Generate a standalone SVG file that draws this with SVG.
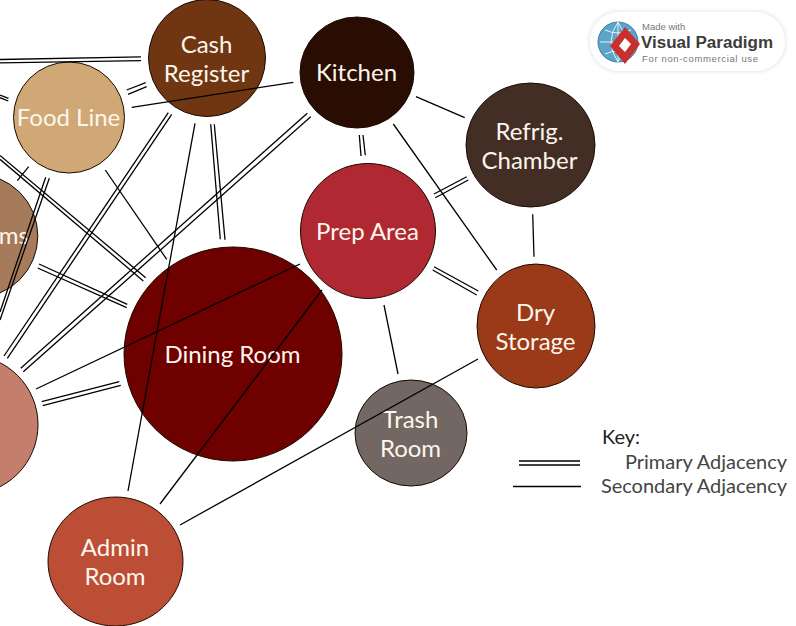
<svg xmlns="http://www.w3.org/2000/svg" width="796" height="626" viewBox="0 0 796 626">
<style>
.n{stroke:#1a0a00;stroke-width:1}
.t{font-family:Lato,"Open Sans","Liberation Sans",sans-serif;font-size:24px;fill:#fdf6ec;text-anchor:middle}
.k{font-family:Lato,"Open Sans","Liberation Sans",sans-serif;font-size:20px;fill:#444;text-anchor:end}
#connectors line{stroke:#000;stroke-width:1.3;fill:none}
</style>
<defs>
<filter id="soft" x="-10%" y="-20%" width="120%" height="140%"><feGaussianBlur stdDeviation="1.5"/></filter>
</defs>
<rect width="796" height="626" fill="#fff"/>
<g id="restrooms"><circle class="n" cx="-24" cy="236" r="61.800" fill="#A67B5B"/><text class="t" x="29" y="244" style="text-anchor:end">ms</text></g>
<g id="unnamed-left"><circle class="n" cx="-31.600" cy="424.700" r="69.600" fill="#C47F6C"/></g>
<g id="cash-register"><circle class="n" cx="207" cy="58" r="58.500" fill="#6F3611"/><text class="t" x="206.500" y="53">Cash</text><text class="t" x="206.500" y="82">Register</text></g>
<g id="food-line"><circle class="n" cx="69" cy="117.500" r="55.500" fill="#CFA876"/><text class="t" x="68.500" y="126">Food Line</text></g>
<g id="kitchen"><ellipse class="n" cx="357" cy="72.500" rx="57" ry="55.500" fill="#2A0D02"/><text class="t" x="356.500" y="81">Kitchen</text></g>
<g id="refrig-chamber"><ellipse class="n" cx="530.500" cy="145" rx="64.500" ry="62" fill="#432E25"/><text class="t" x="529.500" y="140">Refrig.</text><text class="t" x="529.500" y="169">Chamber</text></g>
<g id="prep-area"><circle class="n" cx="368" cy="231" r="67.500" fill="#B02832"/><text class="t" x="367.500" y="240">Prep Area</text></g>
<g id="dry-storage"><ellipse class="n" cx="536" cy="326" rx="59" ry="62" fill="#9B3A18"/><text class="t" x="535.500" y="321">Dry</text><text class="t" x="535.500" y="350">Storage</text></g>
<g id="dining-room"><ellipse class="n" cx="233" cy="354" rx="109" ry="107" fill="#6F0000"/><text class="t" x="232.500" y="363">Dining Room</text></g>
<g id="trash-room"><ellipse class="n" cx="411" cy="433" rx="56" ry="53" fill="#726763"/><text class="t" x="410.500" y="428">Trash</text><text class="t" x="410.500" y="457">Room</text></g>
<g id="admin-room"><ellipse class="n" cx="115.500" cy="561.500" rx="67.500" ry="64.500" fill="#BC4E36"/><text class="t" x="115" y="556">Admin</text><text class="t" x="115" y="585">Room</text></g>
<g id="connectors">
<line x1="0" y1="59.500" x2="141" y2="56.800"/><line x1="0" y1="62.800" x2="141" y2="60.600"/>
<line x1="126.700" y1="90" x2="145.700" y2="82.700"/><line x1="128" y1="94.300" x2="146.700" y2="86.700"/>
<line x1="131.700" y1="107.300" x2="293.300" y2="82.300"/>
<line x1="168.300" y1="112.700" x2="4" y2="356"/><line x1="171.700" y1="114.300" x2="7.300" y2="358.300"/>
<line x1="195" y1="123.300" x2="128" y2="491"/>
<line x1="210.700" y1="124.300" x2="220.300" y2="239.300"/><line x1="214.300" y1="124.300" x2="225" y2="239.700"/>
<line x1="307.300" y1="113.300" x2="20.700" y2="368.300"/><line x1="310.700" y1="116.700" x2="23.300" y2="371.700"/>
<line x1="105.300" y1="170" x2="166.700" y2="259.300"/>
<line x1="0" y1="155.500" x2="145.700" y2="277.700"/><line x1="0" y1="159.300" x2="143.300" y2="281"/>
<line x1="0" y1="95" x2="8.500" y2="98.300"/><line x1="0" y1="97.700" x2="8.300" y2="101"/>
<line x1="28.700" y1="166.700" x2="17.300" y2="180.700"/>
<line x1="45.700" y1="177.300" x2="0" y2="312"/><line x1="49.300" y1="178.300" x2="0" y2="320"/>
<line x1="39" y1="264" x2="127.300" y2="304.300"/><line x1="37.700" y1="268" x2="126.700" y2="307.700"/>
<line x1="36" y1="389" x2="300" y2="264"/>
<line x1="160" y1="504" x2="322" y2="290"/>
<line x1="41.700" y1="401.700" x2="119.300" y2="381.700"/><line x1="42.700" y1="405.700" x2="120.700" y2="385.300"/>
<line x1="359.300" y1="135" x2="361" y2="156"/><line x1="363" y1="135" x2="365.300" y2="155.300"/>
<line x1="416" y1="96.700" x2="464.700" y2="117.700"/>
<line x1="393.300" y1="124" x2="496.700" y2="270"/>
<line x1="466.700" y1="176.700" x2="434" y2="194"/><line x1="468.300" y1="180" x2="435.300" y2="197.700"/>
<line x1="434" y1="266.700" x2="478.300" y2="291"/><line x1="432.700" y1="270" x2="476.700" y2="295"/>
<line x1="532.700" y1="214.300" x2="534" y2="256.700"/>
<line x1="384" y1="305" x2="398" y2="374"/>
<line x1="478" y1="359" x2="180" y2="525"/>
<line x1="519" y1="461" x2="580" y2="461"/><line x1="519" y1="465" x2="580" y2="465"/>
<line x1="513" y1="486.500" x2="581" y2="486.500"/>
</g>
<g id="key">
<text class="k" x="602" y="443.500" style="fill:#222;text-anchor:start">Key:</text>
<text class="k" x="787" y="468.500">Primary Adjacency</text>
<text class="k" x="787" y="492.500">Secondary Adjacency</text>
</g>
<g id="badge">
<rect x="588" y="10" width="199" height="63" rx="31" fill="#eee" filter="url(#soft)"/>
<rect x="590" y="12" width="195" height="59" rx="29" fill="#fff"/>
<circle cx="618" cy="42" r="20" fill="#5aa5c8" stroke="#3c7fa6" stroke-width="1"/>
<path d="M600 42H636M618 22V62M605 30Q618 36 631 30M605 54Q618 48 631 54M618 22Q604 42 618 62M618 22Q632 42 618 62" fill="none" stroke="#e6f2f8" stroke-width="1"/>
<path d="M625 27L640 44L625 64L610 46Z" fill="#c8302f"/>
<path d="M625 38L631 44L625 52L619 46Z" fill="#fff"/>
<text x="642" y="30" font-family="Liberation Sans,sans-serif" font-size="9.500" fill="#777">Made with</text>
<text x="641" y="47.500" font-family="Liberation Sans,sans-serif" font-size="16" font-weight="700" fill="#3c3c3c" textLength="132" lengthAdjust="spacingAndGlyphs">Visual Paradigm</text>
<text x="642" y="61.500" font-family="Liberation Sans,sans-serif" font-size="9.500" fill="#777" textLength="116">For non-commercial use</text>
</g>
</svg>
